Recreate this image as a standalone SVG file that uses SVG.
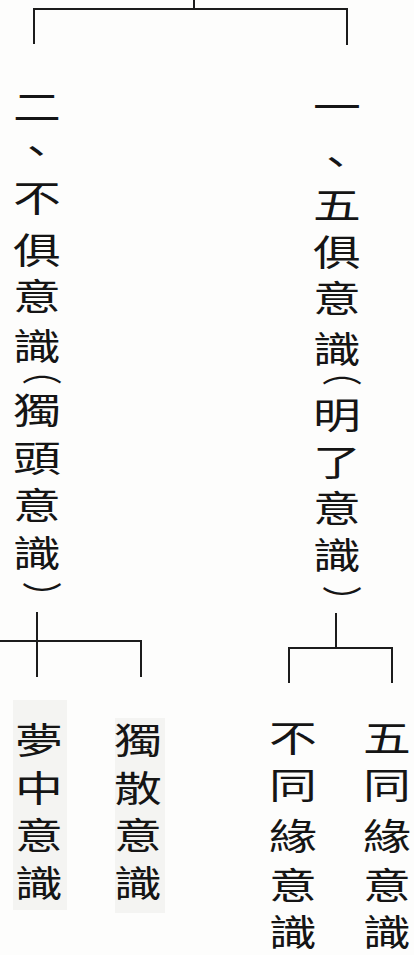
<svg xmlns="http://www.w3.org/2000/svg" width="414" height="955" viewBox="0 0 414 955">
<style>
.t{font-family:"Noto Sans CJK TC","Noto Sans CJK SC",sans-serif;font-size:36px;fill:#151515;text-anchor:middle}
.p{font-family:"Noto Sans CJK TC","Noto Sans CJK SC",sans-serif;font-size:30px;fill:#151515;text-anchor:middle}
.ln{fill:none;stroke:#1c1c1c;stroke-width:2}
</style>
<rect width="414" height="955" fill="#fdfdfc"/>
<g id="bg" fill="#f4f4f2">
<rect x="13" y="700" width="54" height="210"/>
<rect x="115" y="718" width="50" height="195"/>
</g>
<g id="connectors">
<path class="ln" d="M194 0V9M34 44V9H347V45"/>
<path class="ln" d="M37 612V677M0 641H141V677"/>
<path class="ln" d="M336 613V648M289 683V648H392V683"/>
</g>
<g id="node-2" transform="translate(37 0) scale(1.33 1)">
<text class="t" x="0" y="121">二</text>
<text class="t" x="-0.7" y="165">、</text>
<text class="t" x="0" y="212">不</text>
<text class="t" x="0" y="264">俱</text>
<text class="t" x="0" y="310">意</text>
<text class="t" x="0" y="360">識</text>
<g transform="translate(-7.6 370) rotate(90)"><text class="p" x="0" y="0">（</text></g>
<text class="t" x="0" y="424">獨</text>
<text class="t" x="0" y="472">頭</text>
<text class="t" x="0" y="519">意</text>
<text class="t" x="0" y="567">識</text>
<g transform="translate(-7.6 596.7) rotate(90)"><text class="p" x="0" y="0">）</text></g>
</g>
<g id="node-1" transform="translate(337 0) scale(1.33 1)">
<text class="t" x="0" y="121">一</text>
<text class="t" x="-1.1" y="176">、</text>
<text class="t" x="0" y="219">五</text>
<text class="t" x="0" y="266">俱</text>
<text class="t" x="0" y="312">意</text>
<text class="t" x="0" y="363">識</text>
<g transform="translate(-7.6 371) rotate(90)"><text class="p" x="0" y="0">（</text></g>
<text class="t" x="0" y="429">明</text>
<text class="t" x="0" y="476">了</text>
<text class="t" x="0" y="522">意</text>
<text class="t" x="0" y="569">識</text>
<g transform="translate(-7.6 600.7) rotate(90)"><text class="p" x="0" y="0">）</text></g>
</g>
<g id="node-2-1" transform="translate(39 0) scale(1.33 1)">
<text class="t" x="0" y="754">夢</text>
<text class="t" x="0" y="802">中</text>
<text class="t" x="0" y="849">意</text>
<text class="t" x="0" y="897">識</text>
</g>
<g id="node-2-2" transform="translate(138 0) scale(1.33 1)">
<text class="t" x="0" y="754">獨</text>
<text class="t" x="0" y="802">散</text>
<text class="t" x="0" y="849">意</text>
<text class="t" x="0" y="897">識</text>
</g>
<g id="node-1-1" transform="translate(293 0) scale(1.33 1)">
<text class="t" x="0" y="752">不</text>
<text class="t" x="0" y="799">同</text>
<text class="t" x="0" y="850">緣</text>
<text class="t" x="0" y="899">意</text>
<text class="t" x="0" y="946">識</text>
</g>
<g id="node-1-2" transform="translate(387 0) scale(1.33 1)">
<text class="t" x="0" y="752">五</text>
<text class="t" x="0" y="799">同</text>
<text class="t" x="0" y="850">緣</text>
<text class="t" x="0" y="899">意</text>
<text class="t" x="0" y="946">識</text>
</g>
</svg>
